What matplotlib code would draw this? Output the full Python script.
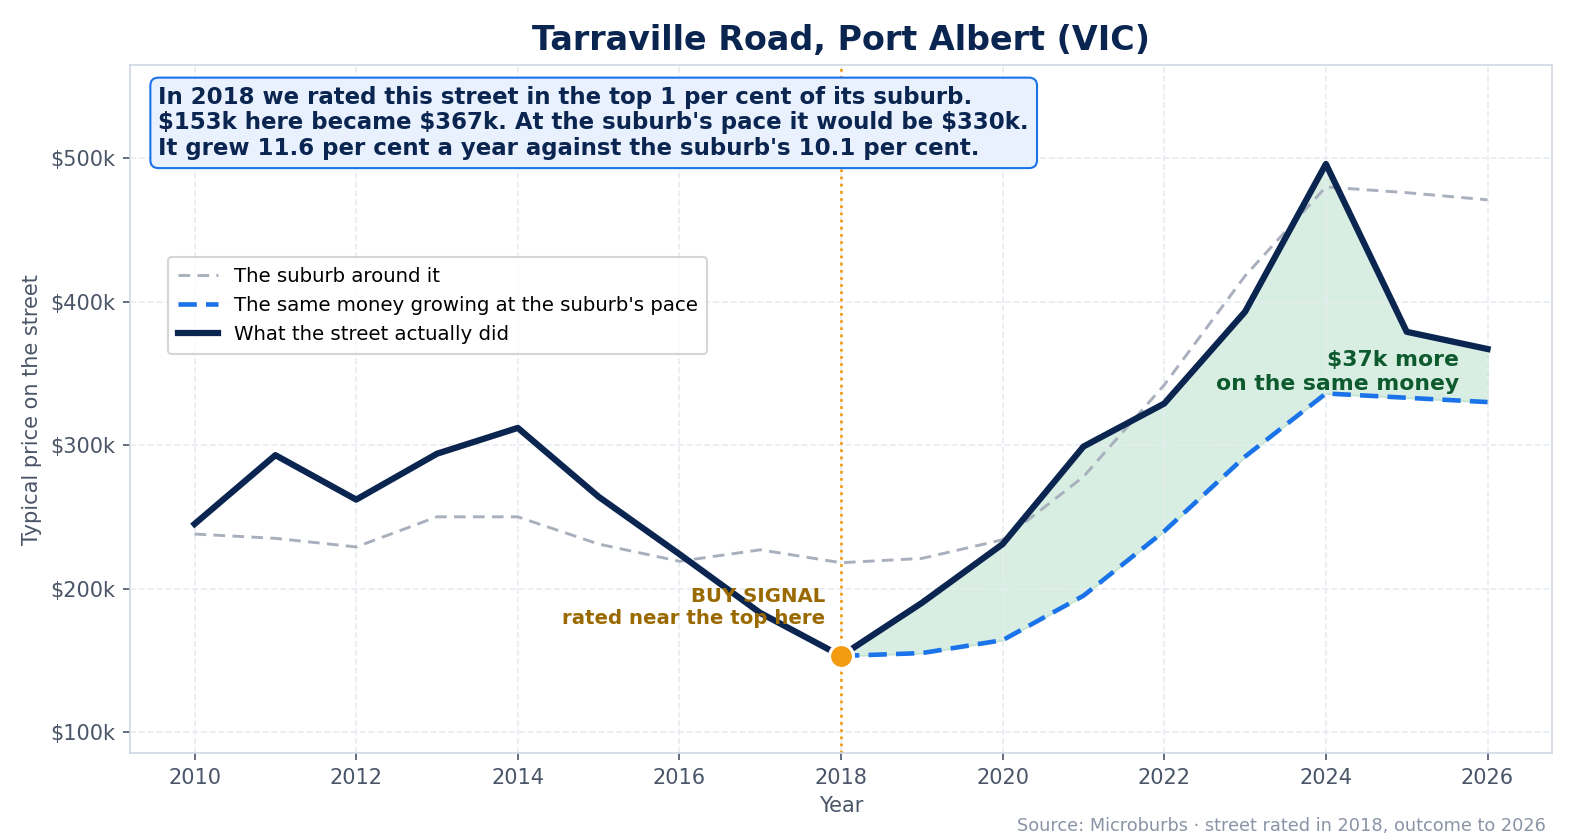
import matplotlib.pyplot as plt
from matplotlib.ticker import FuncFormatter

# Values (in $k)
years = list(range(2010, 2027))
street = [245, 293, 262, 294, 312, 264, 224, 183, 153, 190, 231, 299, 329, 393, 496, 379, 367]
suburb = [238, 235, 229, 250, 250, 231, 219, 227, 218, 221, 234, 278, 342, 418, 480, 476, 471]
pace_years = list(range(2018, 2027))
pace = [153, 155, 164, 195, 240, 292, 336, 333, 330]

buy_year = 2018
buy_price = 153

navy = '#0b2551'
blue = '#1a73e8'
grey = '#a9b0bd'
orange = '#f39c12'

fig, ax = plt.subplots(figsize=(10.5, 5.6), dpi=150)

ax.plot(years, suburb, color=grey, lw=1.4, ls=(0, (4, 2.5)), label='The suburb around it')
street_after = street[years.index(buy_year):]
ax.fill_between(pace_years, pace, street_after, color='#d9eee2', edgecolor='#c2e3cf', lw=0.8, zorder=1)
ax.plot(pace_years, pace, color=blue, lw=2.2, ls=(0, (4, 2)), label="The same money growing at the suburb's pace")
ax.plot(years, street, color=navy, lw=3, label='What the street actually did', zorder=4)

ax.axvline(buy_year, color=orange, lw=1.3, ls=':', zorder=2)
ax.plot([buy_year], [buy_price], 'o', ms=11.5, color=orange, mec='white', mew=1.5, zorder=6)
ax.text(buy_year - 0.2, 187, 'BUY SIGNAL\nrated near the top here', ha='right', va='center',
        fontsize=9.5, fontweight='bold', color='#9a6a00', multialignment='right', zorder=5)
ax.text(2025.65, 351, '$37k more\non the same money', ha='right', va='center',
        fontsize=10.5, fontweight='bold', color='#0e5a2f', multialignment='right', zorder=5)

ax.text(0.02, 0.97,
        "In 2018 we rated this street in the top 1 per cent of its suburb.\n"
        "$153k here became $367k. At the suburb's pace it would be $330k.\n"
        "It grew 11.6 per cent a year against the suburb's 10.1 per cent.",
        transform=ax.transAxes, ha='left', va='top', fontsize=11, fontweight='bold',
        color=navy, linespacing=1.15, zorder=7,
        bbox=dict(boxstyle='round,pad=0.35', fc='#e8f1fd', ec=blue, lw=1))

ax.set_title('Tarraville Road, Port Albert (VIC)', fontsize=16, fontweight='bold', color=navy, pad=7)
ax.set_xlabel('Year', fontsize=10, color='#4a5568')
ax.set_ylabel('Typical price on the street', fontsize=10, color='#4a5568')
ax.set_ylim(85, 565)
ax.set_xticks(range(2010, 2027, 2))
ax.yaxis.set_major_formatter(FuncFormatter(lambda v, p: f'${v:.0f}k'))
ax.tick_params(colors='#4a5568', labelsize=10)
ax.grid(True, ls='--', color='#e8ecf1', lw=0.8)
for s in ax.spines.values():
    s.set_color('#cfd8e3')

leg = ax.legend(loc='upper left', bbox_to_anchor=(0.02, 0.735), fontsize=9.5,
                frameon=True, fancybox=True, borderpad=0.5, handlelength=2)

fig.text(0.9815, 0.006, 'Source: Microburbs · street rated in 2018, outcome to 2026',
         ha='right', va='bottom', fontsize=8.5, color='#8a94a6')

fig.subplots_adjust(left=0.0825, right=0.9855, top=0.9226, bottom=0.103)
plt.savefig('out.png', dpi=150)
